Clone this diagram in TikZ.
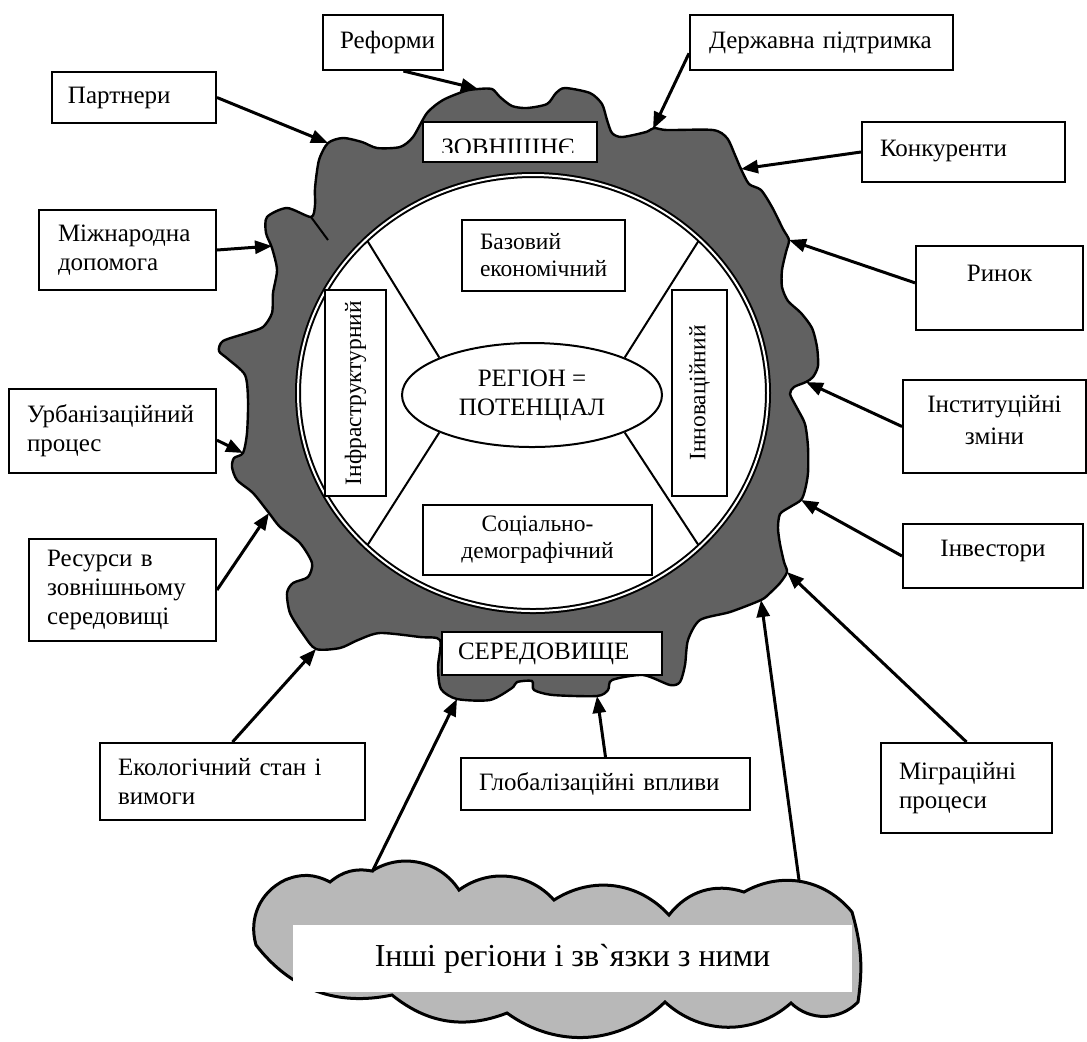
\documentclass[tikz,border=0pt]{standalone}
\usepackage{fontspec}
\setmainfont{Liberation Serif}
\usetikzlibrary{arrows.meta,shapes.geometric,calc}

\begin{document}
\begin{tikzpicture}[x=0.5pt,y=-0.5pt,
  every node/.style={inner sep=0pt},
  frame/.style={draw,line width=1pt,fill=white},
  bigtxt/.style={font=\fontsize{12.5}{14.5}\selectfont},
  smalltxt/.style={font=\fontsize{11.75}{13.5}\selectfont},
  arr/.style={line width=1.5pt,-{Triangle[length=8.5pt,width=6.5pt]}},
  spoke/.style={line width=1pt},
  envfill/.style={draw,line width=1.2pt,fill=black!62},
  cloudfill/.style={draw,line width=1.5pt,fill=black!28}]

\useasboundingbox (0,0) rectangle (1087,1041);

% ---------- environment ring (dark irregular shape) ----------
\path[envfill] plot[smooth cycle,tension=0.45] coordinates {
 (311,217) (315,205) (315,188) (319,160) (328,143) (343,138) (362,142)
 (377,148) (400,147) (413,137) (427,113) (443,100) (465,91) (478,89)
 (492,89) (500,97) (512,106) (527,108) (547,104) (556,93) (565,88)
 (590,93) (602,104) (607,120) (612,133) (622,137) (646,132) (654,128)
 (667,130) (713,130) (727,138) (735,155) (741,169) (749,184) (761,190)
 (772,207) (783,229) (789,240) (786,252) (782,270) (782,287) (788,301)
 (801,313) (812,328) (817,347) (818,366) (813,377) (806,382) (794,387)
 (790,394) (797,408) (805,424) (808,447) (808,473) (805,490) (801,500)
 (790,507) (780,514) (778,528) (780,544) (784,562) (787,572) (780,583)
 (770,593) (761,600) (730,612) (700,620) (688,640) (685,665) (680,682)
 (670,685) (643,675) (612,680) (608,690) (597,696) (553,695) (534,690)
 (532,681) (517,682) (512,688) (490,700) (457,699) (441,689) (438,667)
 (440,640) (420,637) (380,633) (358,640) (340,648) (316,649) (303,634)
 (290,613) (287,593) (293,583) (308,577) (312,563) (300,543) (280,527)
 (269,513) (253,493) (237,480) (232,467) (234,458) (243,453) (247,433)
 (248,400) (245,375) (228,359) (219,351) (223,341) (247,333) (263,327)
 (272,313) (273,293) (277,270) (272,248) (266,233) (267,217) (287,208)};
\draw[line width=1pt] (311,217) -- (328,240);

% ---------- the region disc ----------
\fill[white] (533,393) ellipse [x radius=236, y radius=219];

\node[draw,ellipse,line width=1pt,fill=white,minimum width=130pt,minimum height=52pt,
      align=center,bigtxt] (cen) at (532,395) {РЕГІОН =\\ПОТЕНЦІАЛ};

\coordinate (sUL) at (365,237);
\coordinate (sUR) at (701,237);
\coordinate (sLL) at (365,549);
\coordinate (sLR) at (701,549);
\draw[spoke] (cen.158) -- (sUL);
\draw[spoke] (cen.22) -- (sUR);
\draw[spoke] (cen.202) -- (sLL);
\draw[spoke] (cen.338) -- (sLR);

\draw[line width=1pt,double=white,double distance=1pt] (533,393) ellipse [x radius=235, y radius=218];

% ---------- components of the potential ----------
\node[frame,smalltxt,minimum width=81.5pt,minimum height=35.5pt,inner xsep=9pt,
      text width=63.5pt,align=left] (baz) at (543.5,255.5) {Базовий\\економічний};
\node[frame,smalltxt,minimum width=114.5pt,minimum height=35pt,align=center]
      (soc) at (537.5,540) {Соціально-\\демографічний};
\node[frame,smalltxt,rotate=90,minimum width=103pt,minimum height=30.5pt]
      (infra) at (355.5,393) {Інфраструктурний};
\node[frame,smalltxt,rotate=90,minimum width=103pt,minimum height=27.5pt]
      (inno) at (699.5,393) {Інноваційний};

% ---------- ring captions ----------
\node[frame,minimum width=87pt,minimum height=20pt] (zovn) at (510,142) {};
\begin{scope}
  \clip (424,123) rectangle (596,152);
  \node[bigtxt,anchor=base] (zovntxt) at (508,155.5) {ЗОВНІШНЄ};
\end{scope}
\node[frame,bigtxt,minimum width=110pt,minimum height=21.5pt,inner xsep=8pt,
      text width=94pt,align=left] (sered) at (552,653.5) {СЕРЕДОВИЩЕ};

% ---------- external factors ----------
\node[frame,bigtxt,minimum width=60pt,minimum height=27.5pt,inner xsep=8.5pt,
      text width=43pt,align=left] (ref) at (383,42.5) {Реформи};
\node[frame,bigtxt,minimum width=131.5pt,minimum height=27.5pt,inner xsep=9.5pt,
      text width=112.5pt,align=left] (dp) at (821.5,42.5) {Державна підтримка};
\node[frame,bigtxt,minimum width=82pt,minimum height=25.5pt,inner xsep=8pt,
      text width=66pt,align=left] (par) at (134,97.5) {Партнери};
\node[frame,bigtxt,minimum width=101.5pt,minimum height=30pt,inner xsep=9pt,
      text width=83.5pt,align=left] (kon) at (963.5,152) {Конкуренти\\[-10.5pt]\mbox{}};
\node[frame,bigtxt,minimum width=88.5pt,minimum height=40pt,inner xsep=9.5pt,
      text width=69.5pt,align=left] (mizh) at (127.5,250) {Міжнародна\\допомога};
\node[frame,bigtxt,minimum width=83.5pt,minimum height=42pt,align=center]
      (ryn) at (999.5,288) {Ринок\\\mbox{}};
\node[frame,bigtxt,minimum width=103.5pt,minimum height=42pt,inner xsep=9pt,
      text width=85.5pt,align=left] (urb) at (112.5,431) {Урбанізаційний\\процес};
\node[frame,bigtxt,minimum width=91.5pt,minimum height=46.5pt,align=center]
      (inst) at (994.5,426.5) {Інституційні\\[1.5pt]зміни\\[-8pt]\mbox{}};
\node[frame,bigtxt,minimum width=93.5pt,minimum height=51pt,inner xsep=9pt,
      text width=75.5pt,align=left] (res) at (122.5,590) {Ресурси в\\зовнішньому\\середовищі};
\node[frame,bigtxt,minimum width=90pt,minimum height=32pt,align=center]
      (inv) at (993,556) {Інвестори\\[-7pt]\mbox{}};
\node[frame,bigtxt,minimum width=132.5pt,minimum height=38.5pt,inner xsep=9pt,
      text width=114.5pt,align=left] (eco) at (232.5,781.5) {Екологічний стан і\\вимоги};
\node[frame,bigtxt,minimum width=144.5pt,minimum height=26pt,inner xsep=9pt,
      text width=126.5pt,align=left] (glob) at (605.5,784) {Глобалізаційні впливи};
\node[frame,bigtxt,minimum width=85.5pt,minimum height=45pt,inner xsep=9pt,
      text width=67.5pt,align=left] (migr) at (966.5,788) {Міграційні\\процеси};

% ---------- other regions (light cloud built from bulging lobes) ----------
\path[cloudfill] (256,945)
  to[bend left=40] (285,880)
  to[bend left=25] (330,882)
  to[bend left=25] (372,871)
  to[bend left=45] (459,890)
  to[bend left=42] (554,900)
  to[bend left=40] (669,915)
  to[bend left=35] (744,892)
  to[bend left=40] (852,912)
  to[bend left=12] (858,1002)
  to[bend left=45] (791,1003)
  to[bend left=42] (665,1002)
  to[bend left=40] (507,1013)
  to[bend left=30] (392,995)
  to[bend left=32] cycle;
\node[fill=white,minimum width=279.5pt,minimum height=33.5pt,
      font=\fontsize{16}{19}\selectfont] (oth) at (572.5,958.5) {Інші регіони і зв\textasciigrave язки з ними};
\coordinate (cL) at (372,872);
\coordinate (cR) at (799,880);

% ---------- arrow targets on the environment border ----------
\coordinate (tRef) at (478,89);
\coordinate (tDp) at (653,129);
\coordinate (tPar) at (328,143);
\coordinate (tMizh) at (272,246);
\coordinate (tUrb) at (243,453);
\coordinate (tRes) at (269,513);
\coordinate (tEco) at (316,649);
\coordinate (tOthL) at (457,699);
\coordinate (tGlob) at (597,696);
\coordinate (tOthR) at (761,600);
\coordinate (tMigr) at (787,572);
\coordinate (tInv) at (801,500);
\coordinate (tInst) at (806,382);
\coordinate (tRyn) at (789,240);
\coordinate (tKon) at (741,169);

% ---------- influences ----------
\draw[arr] ($(ref.south west)!0.667!(ref.south east)$) -- (tRef);
\draw[arr] ($(dp.north west)!0.69!(dp.south west)$) -- (tDp);
\draw[arr] (par.east) -- (tPar);
\draw[arr] (mizh.east) -- (tMizh);
\draw[arr] ($(urb.north east)!0.607!(urb.south east)$) -- (tUrb);
\draw[arr] (res.east) -- (tRes);
\draw[arr] (eco.north) -- (tEco);
\draw[arr] (cL) -- (tOthL);
\draw[arr] (glob.north) -- (tGlob);
\draw[arr] (cR) -- (tOthR);
\draw[arr] (migr.north) -- (tMigr);
\draw[arr] (inv.west) -- (tInv);
\draw[arr] (inst.west) -- (tInst);
\draw[arr] ($(ryn.north west)!0.44!(ryn.south west)$) -- (tRyn);
\draw[arr] (kon.west) -- (tKon);

\end{tikzpicture}
\end{document}
